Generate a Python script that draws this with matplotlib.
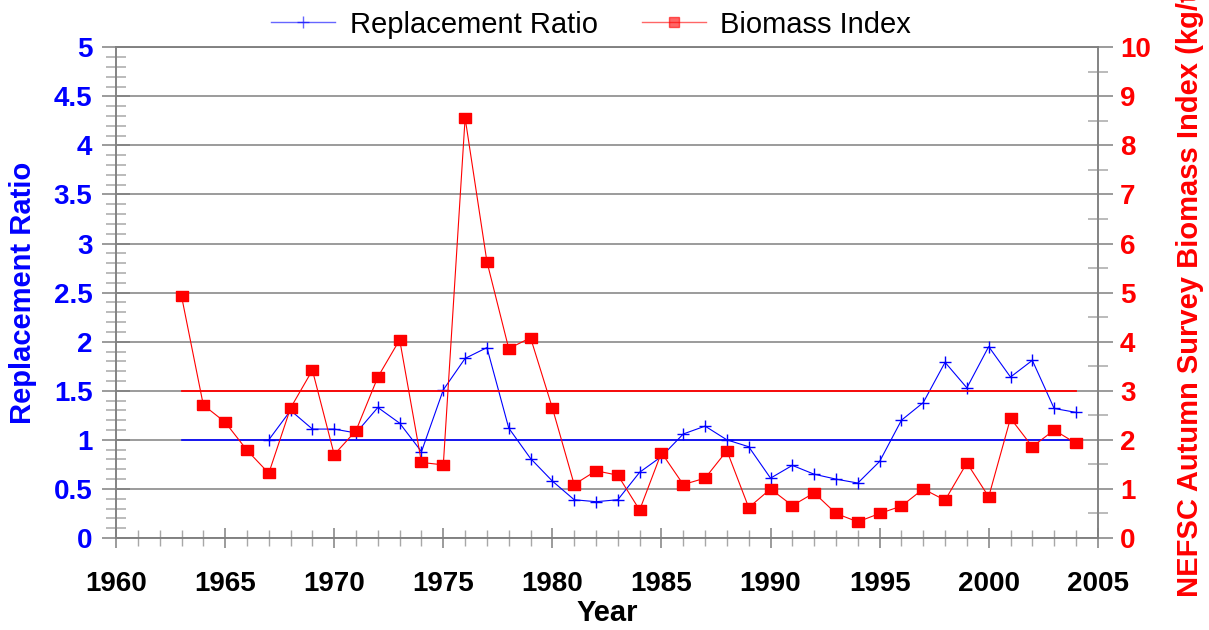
import numpy as np
import matplotlib.pyplot as plt
from matplotlib.lines import Line2D
from matplotlib.ticker import MultipleLocator

plt.rcParams['font.family'] = ['Liberation Sans', 'DejaVu Sans']

# replacement ratio (left axis), 1967-2004
ratio_years = np.arange(1967, 2005)
ratio = [1.00, 1.30, 1.11, 1.11, 1.07, 1.33, 1.17, 0.88, 1.51, 1.83,
         1.94, 1.12, 0.81, 0.58, 0.39, 0.37, 0.39, 0.67, 0.83, 1.06,
         1.14, 1.00, 0.93, 0.61, 0.74, 0.65, 0.60, 0.56, 0.78, 1.20,
         1.38, 1.79, 1.53, 1.95, 1.64, 1.81, 1.32, 1.28]

# NEFSC autumn survey biomass index (right axis), 1963-2004
bio_years = np.arange(1963, 2005)
biomass = [4.93, 2.71, 2.36, 1.79, 1.32, 2.65, 3.42, 1.70, 2.19, 3.28,
           4.04, 1.54, 1.49, 8.56, 5.63, 3.86, 4.08, 2.65, 1.09, 1.37,
           1.28, 0.57, 1.74, 1.09, 1.22, 1.78, 0.62, 1.00, 0.66, 0.92,
           0.50, 0.33, 0.50, 0.65, 1.00, 0.77, 1.53, 0.84, 2.44, 1.86,
           2.20, 1.93]

# reference levels
ref_years = [1963, 2004]
ratio_ref = 1.0
bio_ref = 3.0

blue = '#0000ff'
red = '#ff0000'
grid_c = '#808080'
minor_c = '#a8a8a8'

fig = plt.figure(figsize=(12.09, 6.3), dpi=100)
ax = fig.add_axes([0.096, 0.146, 0.812, 0.779])
ax2 = ax.twinx()

# left axis: replacement ratio
ax.plot(ref_years, [ratio_ref, ratio_ref], color=blue, lw=1.2)
ax.plot(ratio_years, ratio, color=blue, lw=0.8, marker='+', ms=9, mew=1.0)
ax.set_xlim(1960, 2005)
ax.set_ylim(0, 5)
ax.xaxis.set_major_locator(MultipleLocator(5))
ax.xaxis.set_minor_locator(MultipleLocator(1))
ax.yaxis.set_minor_locator(MultipleLocator(0.1))
ax.set_yticks(np.arange(0, 5.01, 0.5))
ax.set_yticklabels(['0', '0.5', '1', '1.5', '2', '2.5', '3', '3.5', '4', '4.5', '5'])
ax.grid(axis='y', which='major', color=grid_c, lw=1.1)
ax.tick_params(axis='y', which='major', direction='inout', length=20, width=1.1,
               color=grid_c, labelcolor=blue, labelsize=20, pad=7)
ax.tick_params(axis='y', which='minor', direction='inout', length=15, width=1.1,
               color=minor_c)
ax.tick_params(axis='x', which='major', direction='inout', length=15, width=1.1,
               color=grid_c, labelcolor='black', labelsize=20, pad=16)
ax.tick_params(axis='x', which='minor', direction='inout', length=11, width=1.0,
               color=minor_c)
for lab in ax.get_xticklabels() + ax.get_yticklabels():
    lab.set_fontweight('bold')
ax.set_xlabel('Year', fontsize=21, fontweight='bold', labelpad=2)
ax.set_ylabel('Replacement Ratio', fontsize=21, fontweight='bold', color=blue, labelpad=12)
for s in ['left', 'bottom', 'right', 'top']:
    ax.spines[s].set_color(grid_c)
    ax.spines[s].set_linewidth(1.1)

# right axis: biomass index
ax2.plot(ref_years, [bio_ref, bio_ref], color=red, lw=1.3)
ax2.plot(bio_years, biomass, color=red, lw=0.8,
         marker=[(-6, -4.5), (6, -4.5), (6, 4.5), (-6, 4.5), (-6, -4.5)],
         ms=9, mec=red, mfc=red)
ax2.set_ylim(0, 10)
ax2.yaxis.set_major_locator(MultipleLocator(1))
ax2.yaxis.set_minor_locator(MultipleLocator(0.5))
ax2.tick_params(axis='y', which='major', direction='out', length=11, width=1.1,
                color=grid_c, labelcolor=red, labelsize=20, pad=5)
ax2.tick_params(axis='y', which='minor', direction='inout', length=14, width=1.1,
                color=minor_c)
for lab in ax2.get_yticklabels():
    lab.set_fontweight('bold')
for s in ['left', 'bottom', 'right', 'top']:
    ax2.spines[s].set_color(grid_c)
    ax2.spines[s].set_linewidth(1.1)

fig.text(0.984, 0.052, 'NEFSC Autumn Survey Biomass Index (kg/tow)', rotation=90,
         ha='center', va='bottom', fontsize=21, fontweight='bold', color=red)

# legend above the plot
handles = [Line2D([], [], color=blue, lw=1.0, alpha=0.6, marker='+', ms=8,
                  mec=blue, mew=1.0),
           Line2D([], [], color=red, lw=1.0, alpha=0.6, marker='s', ms=7,
                  mec=red, mfc=red)]
leg = fig.legend(handles, ['Replacement Ratio', 'Biomass Index'], loc='center',
                 bbox_to_anchor=(0.489, 0.961), ncol=2, frameon=False, fontsize=21,
                 handlelength=2.2, handletextpad=0.5, columnspacing=1.5,
                 borderaxespad=0, borderpad=0)
for lh in leg.legend_handles:
    lh.set_markerfacecolor(lh.get_color())

fig.savefig('out.png', dpi=100)
